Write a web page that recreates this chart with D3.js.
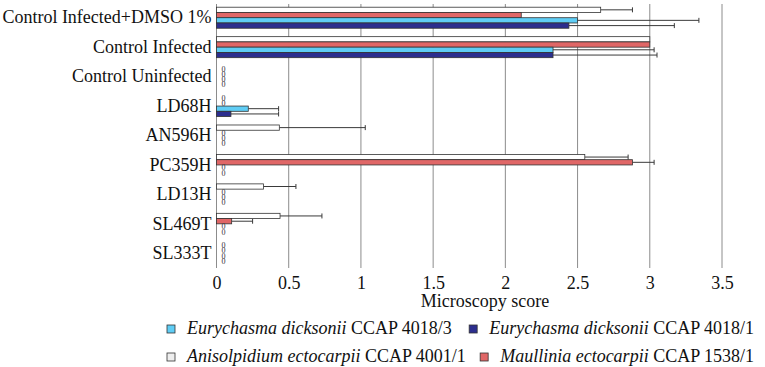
<!DOCTYPE html>
<html>
<head>
<meta charset="utf-8">
<script src="https://cdn.jsdelivr.net/npm/d3@7"></script>
<style>
  body { margin: 0; background: #fff; }
  svg { display: block; }
  svg text { font-family: "Liberation Serif", "Times New Roman", serif; }
</style>
</head>
<body>
<svg id="chart" width="765" height="367"></svg>
<script>
// categories, top to bottom
const CATEGORIES = ['Control Infected+DMSO 1%', 'Control Infected', 'Control Uninfected', 'LD68H',
    'AN596H', 'PC359H', 'LD13H', 'SL469T', 'SL333T'];

// series values (microscopy score) and the + error of each bar
const ANISO = [2.66, 3.0, 0, 0, 0.435, 2.55, 0.325, 0.44, 0];
const ANISO_ERR = [0.22, 0, 0, 0, 0.595, 0.30, 0.225, 0.29, 0];
const MAULL = [2.11, 3.0, 0, 0, 0, 2.88, 0, 0.105, 0];
const MAULL_ERR = [0, 0, 0, 0, 0, 0.15, 0, 0.145, 0];
const EURY3 = [2.5, 2.33, 0, 0.22, 0, 0, 0, 0, 0];
const EURY3_ERR = [0.84, 0.70, 0, 0.21, 0, 0, 0, 0, 0];
const EURY1 = [2.44, 2.33, 0, 0.1, 0, 0, 0, 0, 0];
const EURY1_ERR = [0.73, 0.72, 0, 0.33, 0, 0, 0, 0, 0];

const X_TICKS = [0, 0.5, 1, 1.5, 2, 2.5, 3, 3.5];

// series in drawing order inside a group (top to bottom)
const SERIES = [
    { key: 'aniso', values: ANISO, err: ANISO_ERR, color: '#ffffff', sw: '#eeeeee', genus: 'Anisolpidium ectocarpii', strain: 'CCAP 4001/1' },
    { key: 'maull', values: MAULL, err: MAULL_ERR, color: '#e06767', sw: '#e06767', genus: 'Maullinia ectocarpii', strain: 'CCAP 1538/1' },
    { key: 'eury3', values: EURY3, err: EURY3_ERR, color: '#5fcdf5', sw: '#5fcdf5', genus: 'Eurychasma dicksonii', strain: 'CCAP 4018/3' },
    { key: 'eury1', values: EURY1, err: EURY1_ERR, color: '#2c2e8e', sw: '#2c2e8e', genus: 'Eurychasma dicksonii', strain: 'CCAP 4018/1' }
];

const FONT = '"Liberation Serif", "Times New Roman", serif';
const SVG1 = d3.select('#chart');
const LEFT = 216.5, RIGHT = 722, TOP = 3, BOTTOM = 268;

const X_SCALE = d3.scaleLinear().domain([0, 3.5]).range([LEFT, RIGHT]);
const Y_SCALE = d3.scaleBand().domain(CATEGORIES).range([TOP, BOTTOM])
    .paddingInner(0.286).paddingOuter(0.143);
const SUB_SCALE = d3.scaleBand().domain(SERIES.map(s => s.key)).range([0, Y_SCALE.bandwidth()]);

// vertical grid lines
SVG1.append('g')
    .attr('id', 'grid')
    .selectAll('line')
    .data(X_TICKS)
    .join('line')
    .attr('x1', d => X_SCALE(d)).attr('x2', d => X_SCALE(d))
    .attr('y1', TOP + 1).attr('y2', BOTTOM)
    .style('stroke', '#8c8c8c')
    .style('stroke-width', 1);

// x axis labels
const X_AXIS = d3.axisBottom(X_SCALE).tickValues(X_TICKS).tickSize(0).tickPadding(8).tickFormat(d3.format('~g'));
const X_AXIS_GROUP = SVG1.append('g')
    .attr('id', 'xAxis')
    .attr('transform', `translate(0,${BOTTOM})`);
X_AXIS(X_AXIS_GROUP);
X_AXIS_GROUP.attr('font-family', FONT).attr('font-size', 18);
X_AXIS_GROUP.select('.domain').remove();
X_AXIS_GROUP.selectAll('text').style('fill', '#111');

// y axis labels
const Y_AXIS = d3.axisLeft(Y_SCALE).tickSize(0).tickPadding(5);
const Y_AXIS_GROUP = SVG1.append('g')
    .attr('id', 'yAxis')
    .attr('transform', `translate(${LEFT},0)`);
Y_AXIS(Y_AXIS_GROUP);
Y_AXIS_GROUP.attr('font-family', FONT).attr('font-size', 18);
Y_AXIS_GROUP.select('.domain').remove();
Y_AXIS_GROUP.selectAll('text').style('fill', '#111');

// flatten into bar records
const BARS = [];
CATEGORIES.forEach((c, i) => {
    SERIES.forEach(s => {
        BARS.push({ cat: c, key: s.key, value: s.values[i], err: s.err[i], color: s.color });
    });
});

const barY = d => Y_SCALE(d.cat) + SUB_SCALE(d.key);
const barH = SUB_SCALE.bandwidth();

// error bars (drawn under bars so they start at the bar end)
const ERR_G = SVG1.append('g').attr('id', 'errors');
const ERR_BARS = BARS.filter(d => d.err > 0);
ERR_G.selectAll('line.stem')
    .data(ERR_BARS)
    .join('line')
    .attr('class', 'stem')
    .attr('x1', d => X_SCALE(d.value)).attr('x2', d => X_SCALE(d.value + d.err))
    .attr('y1', d => barY(d) + barH / 2).attr('y2', d => barY(d) + barH / 2)
    .style('stroke', '#3a3a3a').style('stroke-width', 1);
ERR_G.selectAll('line.cap')
    .data(ERR_BARS)
    .join('line')
    .attr('class', 'cap')
    .attr('x1', d => X_SCALE(d.value + d.err)).attr('x2', d => X_SCALE(d.value + d.err))
    .attr('y1', d => barY(d) + barH / 2 - 2.5).attr('y2', d => barY(d) + barH / 2 + 2.5)
    .style('stroke', '#3a3a3a').style('stroke-width', 1);

// bars
SVG1.append('g')
    .attr('id', 'bars')
    .selectAll('rect')
    .data(BARS.filter(d => d.value > 0))
    .join('rect')
    .attr('x', X_SCALE(0))
    .attr('y', barY)
    .attr('width', d => X_SCALE(d.value) - X_SCALE(0))
    .attr('height', barH)
    .style('fill', d => d.color)
    .style('stroke', '#333')
    .style('stroke-width', 0.8);

// "0" labels on empty bars
SVG1.append('g')
    .attr('id', 'zeroLabels')
    .selectAll('text')
    .data(BARS.filter(d => d.value === 0))
    .join('text')
    .attr('x', X_SCALE(0) + 7)
    .attr('y', d => barY(d) + barH / 2)
    .attr('dy', '0.35em')
    .style('text-anchor', 'middle')
    .style('font-family', FONT)
    .style('font-size', '8px')
    .style('fill', '#333')
    .text('0');

// axis title
SVG1.append('text')
    .attr('x', 485)
    .attr('y', 307)
    .style('text-anchor', 'middle')
    .style('font-family', FONT)
    .style('font-size', '18px')
    .style('fill', '#111')
    .text('Microscopy score');

// legend: two rows, two entries each
const LEGEND_ROWS = [[SERIES[2], SERIES[3]], [SERIES[0], SERIES[1]]];
const LEGEND_BASE = [334, 362];
const LEGEND_TEXT_LEFT = 187, LEGEND_RIGHT = 754;

LEGEND_ROWS.forEach((row, r) => {
    row.forEach((s, c) => {
        const g = SVG1.append('g').attr('class', 'legendItem');
        const t = g.append('text')
            .attr('y', LEGEND_BASE[r])
            .style('font-family', FONT)
            .style('font-size', '18px')
            .style('fill', '#111');
        t.append('tspan').style('font-style', 'italic').text(s.genus);
        t.append('tspan').text(' ' + s.strain);
        const w = t.node().getComputedTextLength();
        const textX = c === 0 ? LEGEND_TEXT_LEFT : LEGEND_RIGHT - w;
        t.attr('x', textX);
        g.append('rect')
            .attr('x', textX - 20)
            .attr('y', LEGEND_BASE[r] - 9)
            .attr('width', 8)
            .attr('height', 8)
            .style('fill', s.sw)
            .style('stroke', '#333')
            .style('stroke-width', 0.8);
    });
});
</script>
</body>
</html>
